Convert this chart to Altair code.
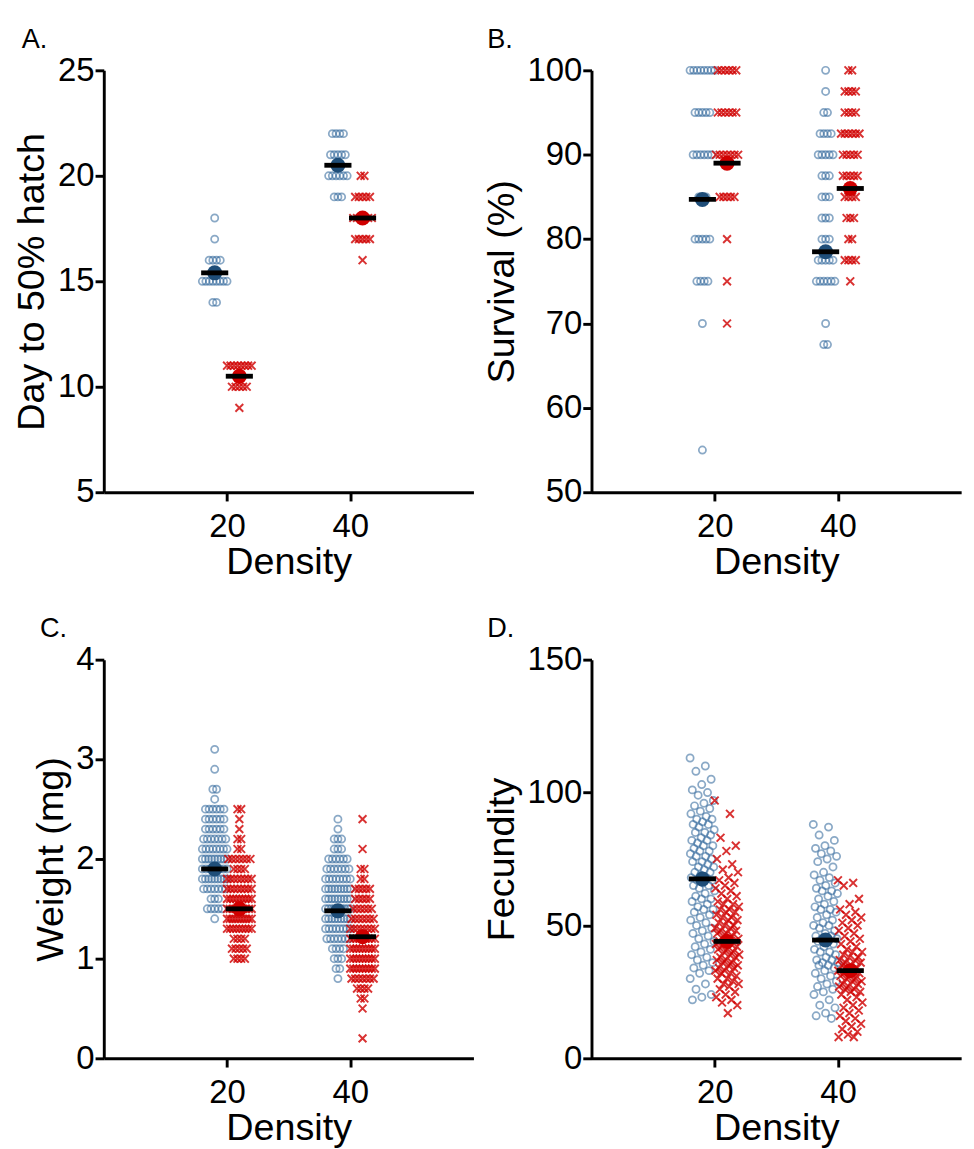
import altair as alt
import pandas as pd

DENSITY = [20, 40]
BLUE = "#2b6399"
BLUE_DARK = "#1f4e79"
RED = "#d00000"
FONT = "Liberation Sans"
XPATH = "M-1,-1L1,1M1,-1L-1,1"

# ---------- Panel A: Day to 50% hatch (value, count) ----------
a_blue20_vals = [18, 17, 16, 15, 14]
a_blue20_cnts = [1, 1, 4, 8, 2]
a_red20_vals = [11, 10, 9]
a_red20_cnts = [8, 5, 1]
a_blue40_vals = [22, 21, 20, 19]
a_blue40_cnts = [4, 5, 6, 3]
a_red40_vals = [20, 19, 18, 17, 16]
a_red40_cnts = [2, 5, 6, 5, 1]
a_means_blue = [15.4, 20.5]
a_means_red = [10.5, 18.0]

# ---------- Panel B: Survival (%) ----------
b_blue20_vals = [100, 95, 90, 85, 80, 75, 70, 55]
b_blue20_cnts = [8, 5, 6, 3, 5, 4, 1, 1]
b_red20_vals = [100, 95, 90, 85, 80, 75, 70]
b_red20_cnts = [6, 6, 7, 5, 1, 1, 1]
b_blue40_vals = [100, 97.5, 95, 92.5, 90, 87.5, 85, 82.5, 80, 77.5, 75, 70, 67.5]
b_blue40_cnts = [1, 1, 2, 4, 5, 3, 3, 3, 3, 5, 6, 1, 2]
b_red40_vals = [100, 97.5, 95, 92.5, 90, 87.5, 85, 82.5, 80, 77.5, 75]
b_red40_cnts = [2, 4, 4, 6, 5, 5, 4, 3, 2, 4, 1]
b_means_blue = [84.7, 78.5]
b_means_red = [89.0, 86.0]

# ---------- Panel C: Weight (mg) ----------
c_blue20_vals = [3.1, 2.9, 2.7, 2.6, 2.5, 2.4, 2.3, 2.2, 2.1, 2.0, 1.9, 1.8, 1.7, 1.6, 1.5, 1.4]
c_blue20_cnts = [1, 1, 2, 1, 6, 6, 6, 7, 8, 9, 8, 9, 7, 3, 5, 1]
c_red20_vals = [2.5, 2.4, 2.3, 2.2, 2.1, 2.0, 1.9, 1.8, 1.7, 1.6, 1.5, 1.4, 1.3, 1.2, 1.1, 1.0]
c_red20_cnts = [2, 1, 1, 2, 2, 7, 4, 8, 8, 9, 10, 10, 9, 4, 5, 4]
c_blue40_vals = [2.4, 2.3, 2.2, 2.1, 2.0, 1.9, 1.8, 1.7, 1.6, 1.5, 1.4, 1.3, 1.2, 1.1, 1.0, 0.9, 0.8]
c_blue40_cnts = [1, 1, 3, 3, 6, 7, 8, 9, 9, 10, 9, 8, 7, 4, 3, 2, 1]
c_red40_vals = [2.4, 2.1, 1.9, 1.8, 1.7, 1.6, 1.5, 1.4, 1.3, 1.2, 1.1, 1.0, 0.9, 0.8, 0.7, 0.6, 0.5, 0.2]
c_red40_cnts = [1, 1, 2, 2, 5, 5, 6, 7, 8, 9, 9, 9, 9, 7, 4, 2, 1, 1]
c_means_blue = [1.9, 1.48]
c_means_red = [1.5, 1.22]

# ---------- Panel D: Fecundity ----------
d_blue20 = [113, 110, 108, 105, 103, 101, 100, 99, 97, 96, 95, 94, 93, 92, 91, 90, 90,
            89, 88, 88, 87, 86, 85, 85, 84, 83, 82, 82, 81, 80, 80, 79, 78, 78, 77, 76,
            76, 75, 74, 74, 73, 72, 72, 71, 70, 70, 69, 68, 68, 67, 67, 66, 65, 65, 64,
            63, 62, 61, 60, 60, 59, 58, 57, 56, 56, 55, 54, 53, 52, 51, 50, 49, 48, 47,
            46, 45, 44, 43, 42, 41, 40, 39, 38, 37, 36, 35, 34, 33, 32, 30, 28, 26, 24,
            23, 22]
d_red20 = [97, 92, 83, 80, 78, 75, 73, 71, 70, 68, 67, 66, 65, 64, 63, 62, 61, 60, 59,
           58, 58, 57, 56, 56, 55, 55, 54, 53, 53, 52, 52, 51, 50, 50, 49, 49, 48, 48,
           47, 47, 46, 46, 45, 45, 44, 44, 44, 43, 43, 42, 42, 41, 41, 40, 40, 39, 39,
           38, 38, 37, 37, 36, 36, 35, 35, 34, 34, 33, 33, 32, 32, 31, 30, 30, 29, 28,
           28, 27, 26, 25, 24, 23, 22, 21, 20, 17]
d_blue40 = [88, 87, 84, 82, 80, 79, 78, 77, 76, 75, 74, 72, 70, 69, 68, 67, 66, 65, 64,
            63, 63, 62, 61, 60, 59, 58, 57, 56, 56, 55, 54, 53, 52, 51, 50, 50, 49, 48,
            47, 46, 46, 45, 45, 44, 44, 43, 42, 41, 40, 40, 39, 38, 37, 37, 36, 36, 35,
            35, 34, 33, 32, 31, 30, 29, 28, 27, 26, 25, 24, 22, 20, 19, 17, 16, 15]
d_red40 = [67, 66, 65, 60, 58, 56, 55, 54, 53, 52, 51, 50, 49, 48, 47, 46, 45, 44, 43,
           42, 41, 40, 40, 39, 38, 38, 37, 37, 36, 36, 35, 35, 34, 34, 33, 33, 32, 32,
           31, 31, 30, 30, 29, 29, 28, 28, 27, 27, 26, 26, 25, 25, 24, 23, 22, 21, 20,
           19, 18, 17, 16, 15, 14, 13, 12, 11, 10, 9, 8, 8]
d_means_blue = [67.5, 44.5]
d_means_red = [44.0, 33.0]

SHIFT = 2.0      # group centre offset from the density tick (x units)
HALF = 2.0       # max half-width of a row of tied points (x units)
STEP = 0.6       # spacing between tied points (x units)


def tied_rows(vals, cnts, dens, grp):
    centre = dens - SHIFT if grp == "blue" else dens + SHIFT
    rows = []
    for v, n in zip(vals, cnts):
        s = STEP if n <= 1 else min(STEP, 2 * HALF / (n - 1))
        for k in range(n):
            rows.append({"x": centre + (k - (n - 1) / 2) * s, "y": v, "g": grp})
    return rows


def spread_rows(vals, dens, grp):
    centre = dens - SHIFT if grp == "blue" else dens + SHIFT
    rows = []
    for i, v in enumerate(vals):
        frac = (i * 0.6180339887) % 1.0
        rows.append({"x": centre + (frac - 0.5) * 2 * HALF, "y": v, "g": grp})
    return rows


def mean_rows(mb, mr):
    rows = []
    for d, b, r in zip(DENSITY, mb, mr):
        rows.append({"x": d - SHIFT, "y": b, "g": "blue"})
        rows.append({"x": d + SHIFT, "y": r, "g": "red"})
    return pd.DataFrame(rows)


AXIS_STYLE = dict(
    grid=False, domainColor="black", domainWidth=3, tickColor="black", tickWidth=3, tickSize=9,
    labelFont=FONT, labelFontSize=34, labelColor="black",
    titleFont=FONT, titleFontSize=39, titleFontWeight="normal", titleColor="black",
)


def panel(df, means, ydomain, yticks, ytitle, letter, h, dx):
    xenc = alt.X("x:Q", scale=alt.Scale(domain=[0, 60], nice=False, zero=False),
                 axis=alt.Axis(values=DENSITY, title="Density", labelPadding=10, titlePadding=0, **AXIS_STYLE))
    yenc = alt.Y("y:Q", scale=alt.Scale(domain=ydomain, nice=False, zero=False),
                 axis=alt.Axis(values=yticks, title=ytitle, labelPadding=1, titlePadding=6, **AXIS_STYLE))
    circles = alt.Chart(df[df.g == "blue"]).mark_point(
        shape="circle", filled=False, color=BLUE, opacity=0.55, size=55, strokeWidth=1.8
    ).encode(x=xenc, y=yenc)
    crosses = alt.Chart(df[df.g == "red"]).mark_point(
        shape=XPATH, filled=False, color=RED, opacity=0.8, size=65, strokeWidth=2.0
    ).encode(x=xenc, y=yenc)
    dots = alt.Chart(means).mark_circle(size=240, opacity=1).encode(
        x=xenc, y=yenc,
        color=alt.Color("g:N", scale=alt.Scale(domain=["blue", "red"], range=[BLUE_DARK, RED]), legend=None),
    )
    bars = alt.Chart(means).mark_tick(orient="horizontal", color="black", thickness=5, size=28, opacity=1).encode(
        x=xenc, y=yenc)
    return alt.layer(circles, crosses, dots, bars).properties(
        width=382, height=h,
        title=alt.TitleParams(letter, anchor="start", fontSize=28, font=FONT, fontWeight="normal",
                              color="black", dx=dx, offset=0),
    )


dfA = pd.DataFrame(
    tied_rows(a_blue20_vals, a_blue20_cnts, 20, "blue") + tied_rows(a_red20_vals, a_red20_cnts, 20, "red")
    + tied_rows(a_blue40_vals, a_blue40_cnts, 40, "blue") + tied_rows(a_red40_vals, a_red40_cnts, 40, "red"))
dfB = pd.DataFrame(
    tied_rows(b_blue20_vals, b_blue20_cnts, 20, "blue") + tied_rows(b_red20_vals, b_red20_cnts, 20, "red")
    + tied_rows(b_blue40_vals, b_blue40_cnts, 40, "blue") + tied_rows(b_red40_vals, b_red40_cnts, 40, "red"))
dfC = pd.DataFrame(
    tied_rows(c_blue20_vals, c_blue20_cnts, 20, "blue") + tied_rows(c_red20_vals, c_red20_cnts, 20, "red")
    + tied_rows(c_blue40_vals, c_blue40_cnts, 40, "blue") + tied_rows(c_red40_vals, c_red40_cnts, 40, "red"))
dfD = pd.DataFrame(
    spread_rows(d_blue20, 20, "blue") + spread_rows(d_red20, 20, "red")
    + spread_rows(d_blue40, 40, "blue") + spread_rows(d_red40, 40, "red"))

pA = panel(dfA, mean_rows(a_means_blue, a_means_red), [5, 25], [5, 10, 15, 20, 25], "Day to 50% hatch", "A.", 436, 8)
pB = panel(dfB, mean_rows(b_means_blue, b_means_red), [50, 100], [50, 60, 70, 80, 90, 100], "Survival (%)", "B.", 436, 4)
pC = panel(dfC, mean_rows(c_means_blue, c_means_red), [0, 4], [0, 1, 2, 3, 4], "Weight (mg)", "C.", 412, 8)
pD = panel(dfD, mean_rows(d_means_blue, d_means_red), [0, 150], [0, 50, 100, 150], "Fecundity", "D.", 412, 4)

chart = alt.vconcat(
    alt.hconcat(pA, pB, spacing=10),
    alt.hconcat(pC, pD, spacing=10),
    spacing=36,
).configure_view(stroke=None).properties(padding={"left": 6, "top": 0, "right": 5, "bottom": 5})

chart.save("out.html", embed_options={"renderer": "svg", "actions": False})
